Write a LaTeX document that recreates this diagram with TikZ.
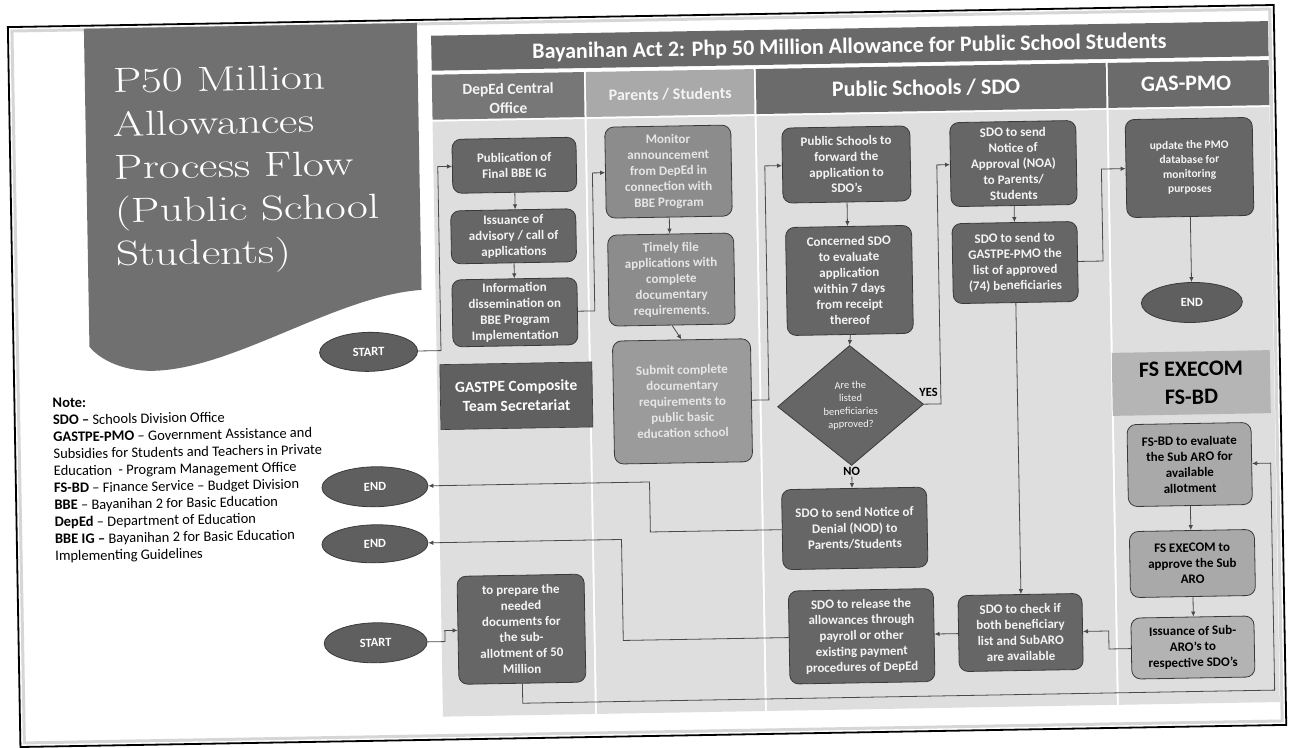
\documentclass[tikz,border=0pt]{standalone}
\usepackage{fontspec}
\setsansfont{Carlito}
\usepackage{graphicx}
\usetikzlibrary{shapes.geometric,arrows.meta}
\definecolor{bannerc}{HTML}{707070}
\definecolor{barc}{HTML}{696969}
\definecolor{hdA}{HTML}{777777}
\definecolor{hdB}{HTML}{A9A9A9}
\definecolor{hdC}{HTML}{6B6B6B}
\definecolor{lanebg}{HTML}{DEDEDE}
\definecolor{boxdk}{HTML}{666666}
\definecolor{boxmd}{HTML}{8C8C8C}
\definecolor{boxsb}{HTML}{9B9B9B}
\definecolor{boxlt}{HTML}{A9A9A9}
\definecolor{boxlt2}{HTML}{B3B3B3}
\definecolor{fshc}{HTML}{B5B5B5}
\definecolor{gasc}{HTML}{606060}
\definecolor{boxln}{HTML}{3A3A3A}
\definecolor{ellc}{HTML}{5F5F5F}
\definecolor{lnc}{HTML}{4A4A4A}
\definecolor{softw}{HTML}{F4F4F4}
\definecolor{mdtxt}{HTML}{E6E6E6}
\definecolor{framein}{HTML}{D6D6D6}
\newcommand\boxfnt{\sffamily\bfseries\fontsize{13}{15.8}\selectfont}
\newcommand\smfnt{\sffamily\bfseries\fontsize{11.5}{14.5}\selectfont}
\newcommand\diafnt{\sffamily\fontsize{10.5}{13}\selectfont}
\newcommand\termfnt{\sffamily\bfseries\fontsize{12.5}{15}\selectfont}
\newcommand\bigfnt{\sffamily\bfseries\fontsize{22}{28}\selectfont}
\newcommand\midfnt{\sffamily\bfseries\fontsize{15.5}{19.5}\selectfont}
\newcommand\notefnt{\sffamily\fontsize{14.5}{17}\selectfont}
\newcommand\titlefnt{\rmfamily\fontsize{35}{43.3}\selectfont}
\begin{document}
\begin{tikzpicture}[x=1pt,y=-1pt,
  proc/.style={draw=boxln, line width=0.8pt, rounded corners=9pt, align=center, inner sep=1pt, font=\boxfnt},
  dk/.style={proc, fill=boxdk, text=softw},
  md/.style={proc, fill=boxmd, text=mdtxt},
  sb/.style={proc, fill=boxsb, text=mdtxt},
  lt/.style={proc, fill=boxlt, text=black},
  lt2/.style={proc, fill=boxlt2, text=black},
  term/.style={ellipse, draw=boxln, line width=0.8pt, fill=ellc, text=white, font=\termfnt, inner sep=0pt},
  conn/.style={draw=lnc, line width=0.8pt, -{Latex[length=5pt,width=4.5pt]}},
  lbl/.style={font=\sffamily\bfseries\fontsize{12.5}{14}\selectfont, text=black, inner sep=1pt},
  hdrtxt/.style={align=center, inner sep=0pt}
]
\useasboundingbox (0,0) rectangle (1295,747);
\fill[white] (0,0) rectangle (1295,747);
\begin{scope}[rotate around={1:(647,373)}, transform shape]
% page frame
\draw[framein, line width=3pt] (18,20) rectangle (1276,732);
\draw[black, line width=1.8pt] (14,16) rectangle (1280,736);
% title banner
\fill[bannerc] (90,19) -- (423,19) -- (423,286)
  .. controls (340,290) and (240,358) .. (160,362)
  .. controls (125,364) and (100,350) .. (90,337) -- cycle;
\node[anchor=north west, inner sep=0pt, text=white, font=\titlefnt] (title) at (118,53)
  {\scalebox{1.3}[1]{\begin{tabular}{@{}l@{}}P50 Million\\Allowances\\Process Flow\\(Public School\\Students)\end{tabular}}};
% note
\node[anchor=north west, inner sep=0pt, align=left, font=\notefnt] (note) at (52,388)
  {\textbf{Note:}\\
   \textbf{SDO --} Schools Division Office\\
   \textbf{GASTPE-PMO} -- Government Assistance and\\
   Subsidies for Students and Teachers in Private\\
   Education \ - Program Management Office\\
   \textbf{FS-BD} -- Finance Service -- Budget Division\\
   \textbf{BBE} -- Bayanihan 2 for Basic Education\\
   \textbf{DepEd} -- Department of Education\\
   \textbf{BBE IG --} Bayanihan 2 for Basic Education\\
   Implementing Guidelines};
% diagram frame: title bar, lane headers, lane bodies
\fill[barc] (437,32) rectangle (1274,67);
\node[hdrtxt, font=\sffamily\bfseries\fontsize{22}{26}\selectfont, text=white] (ttl) at (855,51)
  {Bayanihan Act 2: Php 50 Million Allowance for Public School Students};
\fill[hdA] (437,71) rectangle (589,116);
\fill[hdB] (591,71) rectangle (759,116);
\fill[hdC] (761,71) rectangle (1111,116);
\fill[hdC] (1113,71) rectangle (1274,116);
\node[hdrtxt, font=\midfnt, text=softw] (h1) at (513,96) {DepEd Central\\Office};
\node[hdrtxt, font=\sffamily\bfseries\fontsize{16}{19}\selectfont, text=softw] (h2) at (675,95) {Parents / Students};
\node[hdrtxt, font=\bigfnt, text=white] (h3) at (931,93) {Public Schools / SDO};
\node[hdrtxt, font=\bigfnt, text=white] (h4) at (1191,93) {GAS-PMO};
\fill[lanebg] (437,118) rectangle (589,713);
\fill[lanebg] (591,118) rectangle (759,713);
\fill[lanebg] (761,118) rectangle (1111,713);
\fill[lanebg] (1113,118) rectangle (1274,713);
% side headers
\node[fill=gasc, draw=boxln, line width=0.6pt, minimum width=152pt, minimum height=65pt, align=center, font=\midfnt, text=white, inner sep=0pt] (gas) at (516,393.5) {GASTPE Composite\\Team Secretariat};
\node[fill=fshc, minimum width=158pt, minimum height=63pt, align=center, font=\bigfnt, text=black, inner sep=0pt] (fsh) at (1191,392.5) {FS EXECOM\\FS-BD};
% DepEd Central Office
\node[dk, minimum width=124pt, minimum height=54pt] (pub) at (518,163) {Publication of\\Final BBE IG};
\node[dk, minimum width=125pt, minimum height=53pt] (iss) at (516,234) {Issuance of\\advisory / call of\\applications};
\node[dk, minimum width=125pt, minimum height=67pt] (inf) at (516,310) {Information\\dissemination on\\BBE Program\\Implementation};
\node[dk, minimum width=127pt, minimum height=108pt] (prep) at (517,627) {to prepare the\\needed\\documents for\\the sub-\\allotment of 50\\Million};
% terminals
\node[term, minimum width=98pt, minimum height=39pt] (s1) at (369,347) {START};
\node[term, minimum width=106pt, minimum height=40pt] (e1) at (373,482) {END};
\node[term, minimum width=106pt, minimum height=38pt] (e2) at (372,539) {END};
\node[term, minimum width=103pt, minimum height=40pt] (s2) at (371,638) {START};
% Parents / Students
\node[md, minimum width=126pt, minimum height=91pt] (mon) at (672,172) {Monitor\\announcement\\from DepEd in\\connection with\\BBE Program};
\node[md, minimum width=126pt, minimum height=91pt] (tim) at (673,280) {Timely file\\applications with\\complete\\documentary\\requirements.};
\node[sb, minimum width=138pt, minimum height=123pt] (sub) at (682,402) {Submit complete\\documentary\\requirements to\\public basic\\education school};
% Public Schools / SDO
\node[dk, minimum width=128pt, minimum height=75pt] (pfw) at (850,168) {Public Schools to\\forward the\\application to\\SDO’s};
\node[dk, minimum width=126pt, minimum height=108pt] (evl) at (851,284) {Concerned SDO\\to evaluate\\application\\within 7 days\\from receipt\\thereof};
\node[diamond, draw=boxln, line width=0.8pt, fill=boxdk, text=softw, font=\diafnt, align=center, inner sep=0pt, minimum width=146pt, minimum height=120pt] (dia) at (850,409) {Are the\\listed\\beneficiaries\\approved?};
\node[lbl] (yes) at (928,397) {YES};
\node[lbl, anchor=north] (no) at (dia.south) {NO};
\node[dk, minimum width=145pt, minimum height=80pt] (nod) at (852,532) {SDO to send Notice of\\Denial (NOD) to\\Parents/Students};
\node[dk, minimum width=145pt, minimum height=93pt] (rel) at (857,640) {SDO to release the\\allowances through\\payroll or other\\existing payment\\procedures of DepEd};
\node[dk, minimum width=126pt, minimum height=84pt] (noa) at (1017,170) {SDO to send\\Notice of\\Approval (NOA)\\to Parents/\\Students};
\node[dk, minimum width=125pt, minimum height=80pt] (lst) at (1017,269) {SDO to send to\\GASTPE-PMO the\\list of approved\\(74) beneficiaries};
\node[dk, minimum width=124pt, minimum height=76pt] (chk) at (1016,639) {SDO to check if\\both beneficiary\\list and SubARO\\are available};
% GAS-PMO / FS
\node[dk, font=\smfnt, minimum width=127pt, minimum height=98pt] (upd) at (1193,177) {update the PMO\\database for\\monitoring\\purposes};
\node[term, minimum width=101pt, minimum height=40pt] (e3) at (1193,312) {END};
\node[lt, minimum width=124pt, minimum height=82pt] (fsbd) at (1188,474) {FS-BD to evaluate\\the Sub ARO for\\available\\allotment};
\node[lt, minimum width=125pt, minimum height=66pt] (fse) at (1189,573) {FS EXECOM to\\approve the Sub\\ARO};
\node[lt2, minimum width=123pt, minimum height=61pt] (isu) at (1188,657) {Issuance of Sub-\\ARO’s to\\respective SDO’s};
\coordinate (br) at (1269,701);
% connectors
\draw[conn] (s1.east) -- ++(23,0) |- (pub.west);
\draw[conn] (pub.south) -- (pub.south |- iss.north);
\draw[conn] (iss.south) -- (iss.south |- inf.north);
\draw[conn] (inf.east) -- ++(17,0) |- (mon.west);
\draw[conn] (mon.south) -- (mon.south |- tim.north);
\draw[conn] (tim.south) -- (sub.north);
\draw[conn] (sub.east) -- ++(17,0) |- (pfw.west);
\draw[conn] (pfw.south) -- (pfw.south |- evl.north);
\draw[conn] (evl.south) -- (dia.north);
\draw[conn] (dia.east) -- ++(17,0) |- (noa.west);
\draw[conn] (no.south) -- (no.south |- nod.north);
\draw[conn] (noa.south) -- (noa.south |- lst.north);
\draw[conn] (lst.east) -- ++(25,0) |- (upd.west);
\draw[conn] (upd.south) -- (upd.south |- e3.north);
\draw[conn] (lst.south) -- (lst.south |- chk.north);
\draw[conn] (fsbd.south) -- (fsbd.south |- fse.north);
\draw[conn] (fse.south) -- (fse.south |- isu.north);
\draw[conn] (isu.west) -- ++(-22,0) |- (chk.east);
\draw[conn] (chk.west) -- (chk.west -| rel.east);
\draw[conn] (nod.west) -- ++(-131.5,0) |- (e1.east);
\draw[conn] (rel.west) -- ++(-165.5,0) |- (e2.east);
\draw[conn] (s2.east) -- ++(17.5,0) |- (prep.west);
\draw[conn] (prep.south) |- (br) |- (fsbd.east);
\end{scope}
\end{tikzpicture}
\end{document}
